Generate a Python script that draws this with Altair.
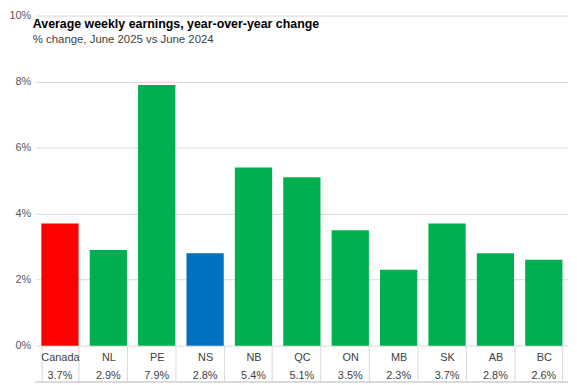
import altair as alt
import pandas as pd

categories = ["Canada", "NL", "PE", "NS", "NB", "QC", "ON", "MB", "SK", "AB", "BC"]
values = [3.7, 2.9, 7.9, 2.8, 5.4, 5.1, 3.5, 2.3, 3.7, 2.8, 2.6]
value_labels = ["3.7%", "2.9%", "7.9%", "2.8%", "5.4%", "5.1%", "3.5%", "2.3%", "3.7%", "2.8%", "2.6%"]
bar_colors = ["#FF0000", "#00B050", "#00B050", "#0070C0", "#00B050", "#00B050",
              "#00B050", "#00B050", "#00B050", "#00B050", "#00B050"]
y_ticks = [0, 2, 4, 6, 8, 10]
title_text = "Average weekly earnings, year-over-year change"
subtitle_text = "% change, June 2025 vs June 2024"

df = pd.DataFrame({"cat": categories, "val": values, "vlabel": value_labels, "color": bar_colors})

W, H = 537, 333
TABLE = 37
FONT = "Liberation Sans"
GRID = "#d9d9d9"

xscale = alt.Scale(domain=categories, paddingInner=0.23, paddingOuter=0.115)

x_axis = alt.X(
    "cat:N", sort=categories, scale=xscale,
    axis=alt.Axis(title=None, tickBand="extent", tickSize=TABLE, tickColor=GRID, tickWidth=1,
                  domain=False, labelPadding=6 - TABLE, labelAngle=0, labelFontSize=11,
                  labelColor="#404040", labelFont=FONT, grid=False),
)
y_enc = alt.Y(
    "val:Q", scale=alt.Scale(domain=[0, 10], nice=False),
    axis=alt.Axis(title=None, values=y_ticks, labelExpr="datum.value + '%'", domain=False,
                  ticks=False, grid=True, gridColor=GRID, gridWidth=1, labelPadding=5,
                  labelFontSize=11, labelColor="#595959", labelFont=FONT),
)

bars = alt.Chart(df).mark_bar().encode(
    x=x_axis, y=y_enc, color=alt.Color("color:N", scale=None)
)

vals = alt.Chart(df).mark_text(fontSize=11, font=FONT, color="#404040", baseline="middle").encode(
    x=x_axis, y=alt.value(H + 31), text="vlabel:N"
)

bottom_rule = alt.Chart(df).mark_rule(color=GRID, strokeWidth=1).encode(
    x=alt.value(0), x2=alt.value(W), y=alt.value(H + TABLE)
)

title_mark = alt.Chart(pd.DataFrame({"t": [title_text]})).mark_text(
    align="left", baseline="alphabetic", fontSize=12.5, fontWeight="bold", font=FONT, color="#000000"
).encode(x=alt.value(-3), y=alt.value(13), text="t:N")

subtitle_mark = alt.Chart(pd.DataFrame({"t": [subtitle_text]})).mark_text(
    align="left", baseline="alphabetic", fontSize=11.5, font=FONT, color="#404040"
).encode(x=alt.value(-3), y=alt.value(28), text="t:N")

chart = alt.layer(bars, vals, bottom_rule, title_mark, subtitle_mark).properties(
    width=W, height=H, padding={"left": 0, "right": 0, "top": 0, "bottom": 0},
    background="white"
).configure_view(stroke=None)

chart.save("out.html", embed_options={"renderer": "svg", "actions": False})
